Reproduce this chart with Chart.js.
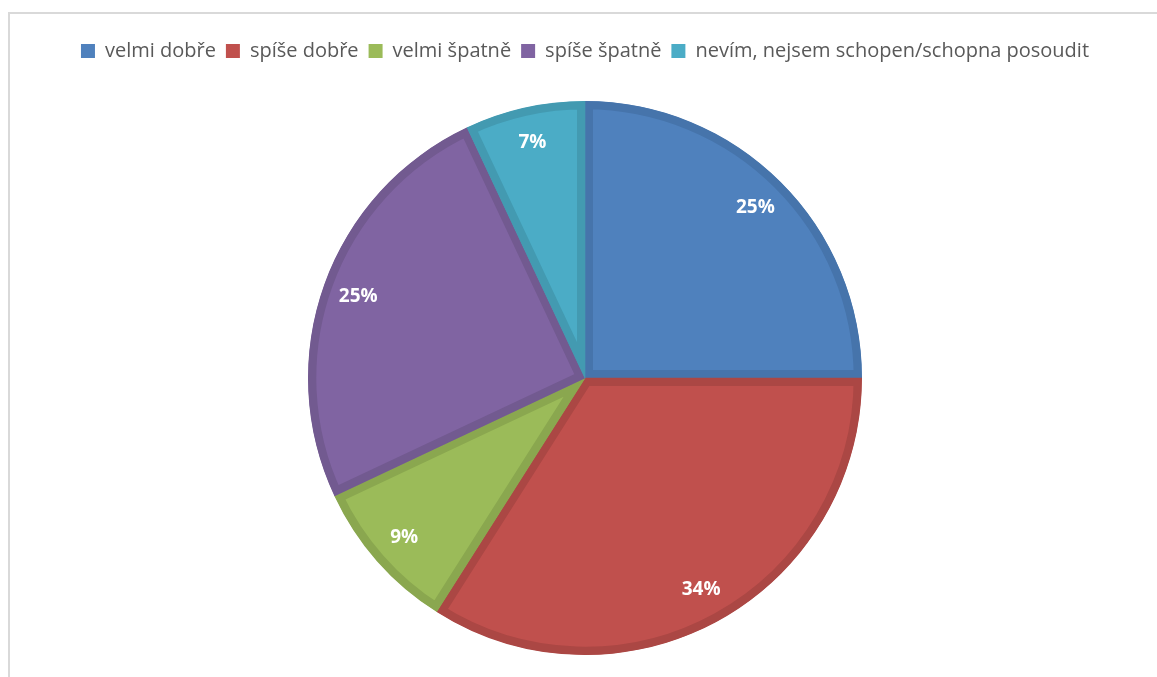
<!DOCTYPE html>
<html>
<head>
<meta charset="utf-8">
<script src="https://cdn.jsdelivr.net/npm/chart.js@4"></script>
<style>
  html, body { margin: 0; padding: 0; background: #fff; overflow: hidden; }
  #ramecek { position: absolute; left: 8px; top: 12px; width: 1200px; height: 720px; border: 2px solid #d9d9d9; }
  #obal { position: absolute; left: 0; top: 0; width: 1157px; height: 685px; }
</style>
</head>
<body>
<div id="ramecek"></div>
<div id="obal"><canvas id="graf"></canvas></div>
<script>
var kategorie = ['velmi dobře', 'spíše dobře', 'velmi špatně', 'spíše špatně', 'nevím, nejsem schopen/schopna posoudit'];
var hodnoty = [25, 34, 9, 25, 7];
var barvy = ['#4f81bd', '#c0504d', '#9bbb59', '#8064a2', '#4bacc6'];
var okraje = ['#4674ab', '#ab4744', '#8aa74f', '#725a90', '#439ab1'];

var popisky = {
    id: 'popisky',
    afterDatasetsDraw: function (chart) {
        var ctx = chart.ctx;
        var meta = chart.getDatasetMeta(0);
        ctx.save();
        ctx.fillStyle = '#ffffff';
        ctx.font = 'bold 19px "Open Sans", sans-serif';
        ctx.textAlign = 'center';
        ctx.textBaseline = 'middle';
        meta.data.forEach(function (arc, i) {
            var p = arc.getProps(['x', 'y', 'startAngle', 'endAngle', 'outerRadius'], true);
            var uhel = (p.startAngle + p.endAngle) / 2;
            var r = p.outerRadius * 0.87;
            ctx.fillText(hodnoty[i] + '%', p.x + Math.cos(uhel) * r, p.y + Math.sin(uhel) * r);
        });
        ctx.restore();
    }
};

var ctx = document.getElementById('graf').getContext('2d');
var graf = new Chart(ctx, {
    type: 'pie',
    data: {
        labels: kategorie,
        datasets: [{
            data: hodnoty,
            backgroundColor: barvy,
            borderColor: okraje,
            borderWidth: 8,
            borderAlign: 'inner'
        }]
    },
    options: {
        responsive: true,
        maintainAspectRatio: false,
        animation: false,
        radius: 277,
        layout: { padding: { left: 13, top: 31, bottom: 0 } },
        plugins: {
            legend: {
                position: 'top',
                labels: {
                    boxWidth: 14,
                    boxHeight: 14,
                    padding: 10,
                    color: '#595959',
                    font: { family: '"Open Sans", sans-serif', size: 20 },
                    generateLabels: function (chart) {
                        return kategorie.map(function (k, i) {
                            return {
                                text: k,
                                fillStyle: barvy[i],
                                strokeStyle: barvy[i],
                                lineWidth: 0,
                                fontColor: '#595959',
                                hidden: false,
                                index: i
                            };
                        });
                    }
                }
            },
            tooltip: { enabled: false }
        }
    },
    plugins: [popisky]
});
</script>
</body>
</html>
